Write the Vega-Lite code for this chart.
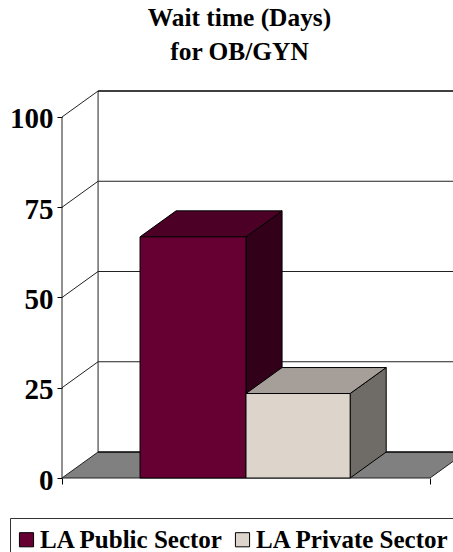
{
"$schema":"https://vega.github.io/schema/vega-lite/v6.json",
"width":391,"height":387,
"autosize":{"type":"none"},
"padding":{"left":62,"top":91,"right":0,"bottom":74},
"background":"white",
"title":{"text":["Wait time (Days)","for OB/GYN"],"font":"Liberation Serif","fontWeight":"bold","fontSize":25.4,"lineHeight":34,"anchor":"middle","frame":"group","dx":-18,"offset":22,"color":"black"},
"config":{"view":{"stroke":null}},
"datasets":{
"floor":[{"depth":0,"left":0,"right":100},{"depth":7.2,"left":9.8,"right":109.8}],
"lines":[
{"id":"b25","x":9.8,"y":32.2},{"id":"b25","x":109.8,"y":32.2},
{"id":"b50","x":9.8,"y":57.2},{"id":"b50","x":109.8,"y":57.2},
{"id":"b75","x":9.8,"y":82.2},{"id":"b75","x":109.8,"y":82.2},
{"id":"d0","x":0,"y":0},{"id":"d0","x":9.8,"y":7.2},
{"id":"d25","x":0,"y":25},{"id":"d25","x":9.8,"y":32.2},
{"id":"d50","x":0,"y":50},{"id":"d50","x":9.8,"y":57.2},
{"id":"d75","x":0,"y":75},{"id":"d75","x":9.8,"y":82.2},
{"id":"d100","x":0,"y":100},{"id":"d100","x":9.8,"y":107.2},
{"id":"wall","x":9.8,"y":7.2},{"id":"wall","x":9.8,"y":107.2},
{"id":"axis","x":0,"y":0},{"id":"axis","x":0,"y":100},
{"id":"base","x":0,"y":0},{"id":"base","x":100,"y":0},
{"id":"edge","x":100,"y":0},{"id":"edge","x":109.8,"y":7.2}
],
"heavy":[{"id":"floorback","x":9.8,"y":7.2},{"id":"floorback","x":109.8,"y":7.2},{"id":"top","x":9.8,"y":107.2},{"id":"top","x":109.8,"y":107.2}],
"sides":[
{"sector":"LA Public Sector","x":50,"top":66.8,"bottom":0},
{"sector":"LA Public Sector","x":59.8,"top":74,"bottom":7.2},
{"sector":"LA Private Sector","x":78.3,"top":23.4,"bottom":0},
{"sector":"LA Private Sector","x":88.1,"top":30.6,"bottom":7.2}
],
"tops":[
{"sector":"LA Public Sector","y":66.8,"left":21.2,"right":50},
{"sector":"LA Public Sector","y":74,"left":31,"right":59.8},
{"sector":"LA Private Sector","y":23.4,"left":50,"right":78.3},
{"sector":"LA Private Sector","y":30.6,"left":59.8,"right":88.1}
],
"bars":[
{"sector":"LA Public Sector","start":21.2,"end":50,"value":66.8,"base":0},
{"sector":"LA Private Sector","start":50,"end":78.3,"value":23.4,"base":0}
]
},
"layer":[
{"data":{"name":"floor"},
 "mark":{"type":"area","orient":"horizontal","fill":"#808080"},
 "encoding":{
  "y":{"field":"depth","type":"quantitative","scale":{"domain":[0,107.2],"nice":false,"zero":false},
   "axis":{"title":null,"values":[0,25,50,75,100],"domain":false,"grid":false,"tickSize":5,"tickColor":"black","labelFont":"Liberation Serif","labelFontWeight":"bold","labelFontSize":29,"labelColor":"black","labelPadding":4,"labelOffset":2}},
  "x":{"field":"left","type":"quantitative","scale":{"domain":[0,106.25],"nice":false,"zero":false},
   "axis":{"title":null,"values":[0,100],"labels":false,"domain":false,"grid":false,"tickSize":6,"tickColor":"black"}},
  "x2":{"field":"right"}}},
{"data":{"name":"lines"},
 "mark":{"type":"line","stroke":"#222222","strokeWidth":1},
 "encoding":{"x":{"field":"x","type":"quantitative"},"y":{"field":"y","type":"quantitative"},"detail":{"field":"id"}}},
{"data":{"name":"heavy"},
 "mark":{"type":"line","stroke":"black","strokeWidth":1.6},
 "encoding":{"x":{"field":"x","type":"quantitative"},"y":{"field":"y","type":"quantitative"},"detail":{"field":"id"}}},
{"data":{"name":"sides"},
 "mark":{"type":"area","stroke":"black","strokeWidth":1},
 "encoding":{
  "x":{"field":"x","type":"quantitative"},
  "y":{"field":"top","type":"quantitative"},
  "y2":{"field":"bottom"},
  "detail":{"field":"sector"},
  "fill":{"field":"sector","type":"nominal","legend":null,"scale":{"domain":["LA Public Sector","LA Private Sector"],"range":["#33001a","#6f6b66"]}}}},
{"data":{"name":"tops"},
 "mark":{"type":"area","orient":"horizontal","stroke":"black","strokeWidth":1},
 "encoding":{
  "y":{"field":"y","type":"quantitative"},
  "x":{"field":"left","type":"quantitative"},
  "x2":{"field":"right"},
  "detail":{"field":"sector"},
  "fill":{"field":"sector","type":"nominal","legend":null,"scale":{"domain":["LA Public Sector","LA Private Sector"],"range":["#4c0026","#a69f99"]}}}},
{"data":{"name":"bars"},
 "mark":{"type":"bar","stroke":"black","strokeWidth":1},
 "encoding":{
  "x":{"field":"start","type":"quantitative"},
  "x2":{"field":"end"},
  "y":{"field":"value","type":"quantitative"},
  "y2":{"field":"base"},
  "color":{"field":"sector","type":"nominal","sort":null,
   "scale":{"domain":["LA Public Sector","LA Private Sector"],"range":["#660033","#ddd5cc"]},
   "legend":{"title":null,"orient":"none","legendX":-52,"legendY":427,"columns":2,"direction":"horizontal","symbolType":"square","symbolSize":200,"symbolStrokeColor":"black","symbolStrokeWidth":1,"labelFont":"Liberation Serif","labelFontWeight":"bold","labelFontSize":25,"labelColor":"black","labelLimit":400,"labelOffset":1,"columnPadding":9,"padding":9,"strokeColor":"#333333","fillColor":"white","symbolOffset":-5}}}}
],
"resolve":{"scale":{"fill":"independent"}}
}
